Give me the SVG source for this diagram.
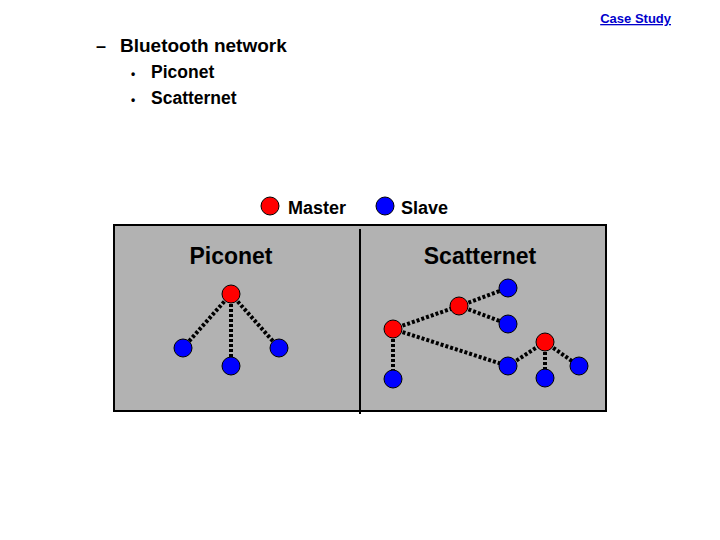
<svg xmlns="http://www.w3.org/2000/svg" width="720" height="540" viewBox="0 0 720 540">
<style>
text{font-family:"Liberation Sans",Arial,sans-serif;font-weight:bold;fill:#000}
.m{fill:#f00;stroke:#000;stroke-width:1}
.s{fill:#00f;stroke:#000;stroke-width:1}
#connectors line{stroke:#000;stroke-width:4;stroke-dasharray:3 2}
.t{font-size:23px}
</style>
<rect width="720" height="540" fill="#fff"/>
<text x="671" y="23" font-size="13" text-anchor="end" style="fill:#00c;text-decoration:underline">Case Study</text>
<text x="96" y="52" font-size="18">–</text><text x="120" y="52" font-size="19">Bluetooth network</text>
<text x="131" y="78" font-size="12">•</text><text x="151" y="78" font-size="17.5">Piconet</text>
<text x="131" y="104" font-size="12">•</text><text x="151" y="104" font-size="17.5">Scatternet</text>
<g id="legend">
<circle class="m" cx="270" cy="206" r="9"/><text x="288" y="214" font-size="18">Master</text>
<circle class="s" cx="385" cy="206" r="9"/><text x="401" y="214" font-size="18">Slave</text>
</g>
<rect x="114" y="225" width="492" height="186" fill="#b2b2b2" stroke="#000" stroke-width="2"/>
<line x1="360" y1="229" x2="360" y2="414" stroke="#000" stroke-width="2"/>
<text class="t" x="231" y="264" text-anchor="middle">Piconet</text>
<text class="t" x="480" y="264" text-anchor="middle">Scatternet</text>
<g id="connectors">
<line x1="231" y1="294" x2="183" y2="348"/>
<line x1="231" y1="294" x2="231" y2="366"/>
<line x1="231" y1="294" x2="279" y2="348"/>
<line x1="393" y1="329" x2="459" y2="306"/>
<line x1="459" y1="306" x2="508" y2="288"/>
<line x1="459" y1="306" x2="508" y2="324"/>
<line x1="393" y1="329" x2="393" y2="379"/>
<line x1="393" y1="329" x2="508" y2="366"/>
<line x1="508" y1="366" x2="545" y2="342"/>
<line x1="545" y1="342" x2="545" y2="378"/>
<line x1="545" y1="342" x2="579" y2="366"/>
</g>
<g id="pm"><circle class="m" cx="231" cy="294" r="9"/></g>
<g id="ps1"><circle class="s" cx="183" cy="348" r="9"/></g>
<g id="ps2"><circle class="s" cx="231" cy="366" r="9"/></g>
<g id="ps3"><circle class="s" cx="279" cy="348" r="9"/></g>
<g id="sm1"><circle class="m" cx="393" cy="329" r="9"/></g>
<g id="sm2"><circle class="m" cx="459" cy="306" r="9"/></g>
<g id="sm3"><circle class="m" cx="545" cy="342" r="9"/></g>
<g id="ss1"><circle class="s" cx="508" cy="288" r="9"/></g>
<g id="ss2"><circle class="s" cx="508" cy="324" r="9"/></g>
<g id="ss3"><circle class="s" cx="393" cy="379" r="9"/></g>
<g id="ss4"><circle class="s" cx="508" cy="366" r="9"/></g>
<g id="ss5"><circle class="s" cx="545" cy="378" r="9"/></g>
<g id="ss6"><circle class="s" cx="579" cy="366" r="9"/></g>
</svg>
